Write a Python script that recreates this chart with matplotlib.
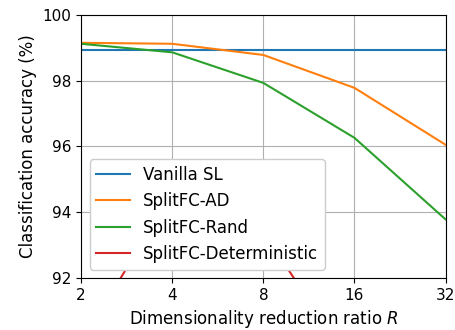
import matplotlib
matplotlib.use("Agg")
import matplotlib.pyplot as plt
from matplotlib.ticker import FixedLocator, FixedFormatter, NullLocator

ratios = [2, 4, 8, 16, 32]
tick_labels = ["2", "4", "8", "16", "32"]
vanilla_sl = [98.92, 98.92, 98.92, 98.92, 98.92]
splitfc_ad = [99.15, 99.12, 98.78, 97.78, 96.05]
splitfc_rand = [99.12, 98.86, 97.93, 96.26, 93.78]
splitfc_det = [90.0, 94.6, 93.4, 89.2, 85.0]

fig = plt.figure(figsize=(4.56, 3.3), dpi=100)
ax = fig.add_axes([0.178, 0.158, 0.799, 0.797])
ax.plot(ratios, vanilla_sl, color="#1f77b4", lw=1.5, label="Vanilla SL")
ax.plot(ratios, splitfc_ad, color="#ff7f0e", lw=1.5, label="SplitFC-AD")
ax.plot(ratios, splitfc_rand, color="#2ca02c", lw=1.5, label="SplitFC-Rand")
ax.plot(ratios, splitfc_det, color="#d62728", lw=1.5, label="SplitFC-Deterministic")
ax.set_xscale("log", base=2)
ax.xaxis.set_major_locator(FixedLocator(ratios))
ax.xaxis.set_major_formatter(FixedFormatter(tick_labels))
ax.xaxis.set_minor_locator(NullLocator())
ax.set_xlim(2, 32)
ax.set_ylim(92, 100)
ax.set_yticks([92, 94, 96, 98, 100])
ax.tick_params(labelsize=11)
ax.grid(True)
ax.set_xlabel("Dimensionality reduction ratio $R$", fontsize=12)
ax.set_ylabel("Classification accuracy (%)", fontsize=12)
ax.legend(loc="lower left", fontsize=12, borderaxespad=0.5, framealpha=1)
fig.savefig("out.png", dpi=100)
